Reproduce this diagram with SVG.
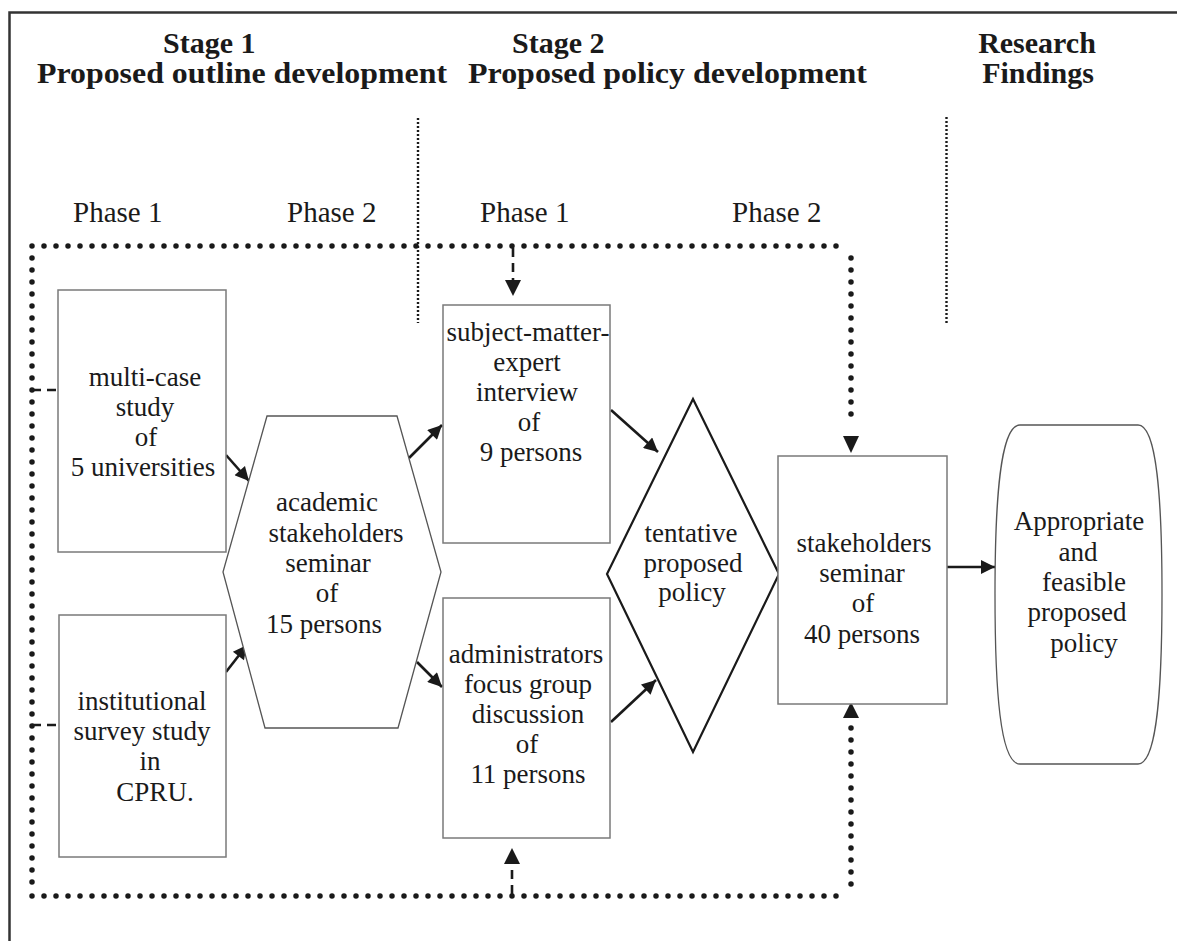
<svg xmlns="http://www.w3.org/2000/svg" width="1177" height="941" viewBox="0 0 1177 941">
  <style>
    text { font-family: "Liberation Serif", "DejaVu Serif", serif; fill: #1a1a1a; }
    .hdr { font-weight: bold; font-size: 30px; }
    .phase { font-size: 29px; }
    .lbl { font-size: 27px; text-anchor: middle; }
    .box { fill: #fff; stroke: #7a7a7a; stroke-width: 1.5; }
    .hex { fill: #fff; stroke: #555; stroke-width: 1.3; }
    .dia { fill: #fff; stroke: #1a1a1a; stroke-width: 2.2; }
    .term { fill: #fff; stroke: #555; stroke-width: 1.3; }
    .solid { fill: none; stroke: #1a1a1a; stroke-width: 2.6; }
    .loop { fill: none; stroke: #1a1a1a; stroke-width: 5.5; stroke-dasharray: 0 12; stroke-linecap: round; }
    .dash { fill: none; stroke: #1a1a1a; stroke-width: 2.6; stroke-dasharray: 9 6; }
    .fine { fill: none; stroke: #1a1a1a; stroke-width: 2.4; stroke-dasharray: 2 2; }
    .head { fill: #1a1a1a; }
  </style>
  <defs>
    <marker id="ah" viewBox="0 0 10 10" refX="10" refY="5" markerWidth="16" markerHeight="14" markerUnits="userSpaceOnUse" orient="auto">
      <path d="M0,0 L10,5 L0,10 z" fill="#1a1a1a"/>
    </marker>
  </defs>

  <rect width="1177" height="941" fill="#fff"/>
  <!-- frame -->
  <path d="M9.5,941 V12.5 H1177" fill="none" stroke="#333" stroke-width="2.5"/>

  <!-- column headers -->
  <g id="headers">
    <text class="hdr" x="163" y="53">Stage 1</text>
    <text class="hdr" x="37" y="83" textLength="410" lengthAdjust="spacingAndGlyphs">Proposed outline development</text>
    <text class="hdr" x="512" y="53">Stage 2</text>
    <text class="hdr" x="468" y="83" textLength="399" lengthAdjust="spacingAndGlyphs">Proposed policy development</text>
    <text class="hdr" x="1037" y="53" text-anchor="middle">Research</text>
    <text class="hdr" x="1038" y="83" text-anchor="middle">Findings</text>
  </g>

  <g id="phases">
    <text class="phase" x="73" y="222">Phase 1</text>
    <text class="phase" x="287" y="222">Phase 2</text>
    <text class="phase" x="480" y="222">Phase 1</text>
    <text class="phase" x="732" y="222">Phase 2</text>
  </g>

  <!-- stage dividers -->
  <g id="dividers">
    <line class="fine" x1="418" y1="118" x2="418" y2="323"/>
    <line class="fine" x1="946.5" y1="117" x2="946.5" y2="323"/>
  </g>

  <g id="connectors">
    <!-- feedback loop -->
    <path class="loop" d="M32,246 H845"/>
    <path class="loop" d="M32,258 V884"/>
    <path class="loop" d="M32,896 H845"/>
    <path class="loop" d="M851,258 V426"/>
    <path class="loop" d="M851,884 V726"/>
    <path class="head" d="M843,436 L859,436 L851,453 z"/>
    <path class="head" d="M843,718 L859,718 L851,702 z"/>
    <!-- dashed feeds -->
    <line class="dash" x1="32" y1="390" x2="58" y2="390"/>
    <line class="dash" x1="32" y1="725" x2="59" y2="725"/>
    <path class="dash" d="M513,248 V282"/>
    <path class="head" d="M505,280 L521,280 L513,296 z"/>
    <path class="dash" d="M512,894 V864"/>
    <path class="head" d="M504,864 L520,864 L512,848 z"/>
    <!-- flow arrows -->
    <line class="solid" x1="226" y1="455" x2="249" y2="481" marker-end="url(#ah)"/>
    <line class="solid" x1="226" y1="672" x2="247" y2="645" marker-end="url(#ah)"/>
    <line class="solid" x1="409" y1="458" x2="442" y2="425" marker-end="url(#ah)"/>
    <line class="solid" x1="417" y1="662" x2="442" y2="687" marker-end="url(#ah)"/>
    <line class="solid" x1="611" y1="410" x2="658" y2="452" marker-end="url(#ah)"/>
    <line class="solid" x1="611" y1="722" x2="656" y2="680" marker-end="url(#ah)"/>
    <line class="solid" x1="947" y1="567" x2="995" y2="567" marker-end="url(#ah)"/>
  </g>

  <g id="multi-case">
    <rect class="box" x="58" y="290" width="168" height="262"/>
    <text class="lbl" x="145" y="386">multi-case</text>
    <text class="lbl" x="145" y="416">study</text>
    <text class="lbl" x="146" y="446">of</text>
    <text class="lbl" x="143" y="476">5 universities</text>
  </g>

  <g id="survey">
    <rect class="box" x="59" y="615" width="167" height="242"/>
    <text class="lbl" x="142" y="710">institutional</text>
    <text class="lbl" x="142" y="740">survey study</text>
    <text class="lbl" x="150" y="770">in</text>
    <text class="lbl" x="155" y="801">CPRU.</text>
  </g>

  <g id="academic-seminar">
    <polygon class="hex" points="267,416 397,416 441,572 398,728 265,728 223,572"/>
    <text class="lbl" x="327" y="511">academic</text>
    <text class="lbl" x="336" y="542">stakeholders</text>
    <text class="lbl" x="328" y="572">seminar</text>
    <text class="lbl" x="327" y="602">of</text>
    <text class="lbl" x="324" y="633">15 persons</text>
  </g>

  <g id="expert-interview">
    <rect class="box" x="443" y="305" width="167" height="238"/>
    <text class="lbl" x="528" y="341">subject-matter-</text>
    <text class="lbl" x="527" y="371">expert</text>
    <text class="lbl" x="527" y="401">interview</text>
    <text class="lbl" x="529" y="431">of</text>
    <text class="lbl" x="531" y="461">9 persons</text>
  </g>

  <g id="focus-group">
    <rect class="box" x="443" y="598" width="167" height="240"/>
    <text class="lbl" x="526" y="663">administrators</text>
    <text class="lbl" x="528" y="693">focus group</text>
    <text class="lbl" x="528" y="723">discussion</text>
    <text class="lbl" x="527" y="753">of</text>
    <text class="lbl" x="528" y="783">11 persons</text>
  </g>

  <g id="tentative-policy">
    <polygon class="dia" points="693,399 779,574 693,752 607,574"/>
    <text class="lbl" x="691" y="542">tentative</text>
    <text class="lbl" x="693" y="572">proposed</text>
    <text class="lbl" x="692" y="601">policy</text>
  </g>

  <g id="stakeholders-seminar">
    <rect class="box" x="778" y="456" width="169" height="248"/>
    <text class="lbl" x="864" y="552">stakeholders</text>
    <text class="lbl" x="862" y="582">seminar</text>
    <text class="lbl" x="863" y="612">of</text>
    <text class="lbl" x="862" y="643">40 persons</text>
  </g>

  <g id="findings">
    <path class="term" d="M1020,425 H1138 C1157,425 1162,500 1162,594 C1162,690 1157,764 1138,764 H1020 C1000,764 995,690 995,594 C995,500 1000,425 1020,425 Z"/>
    <text class="lbl" x="1079" y="530">Appropriate</text>
    <text class="lbl" x="1078" y="561">and</text>
    <text class="lbl" x="1084" y="591">feasible</text>
    <text class="lbl" x="1077" y="621">proposed</text>
    <text class="lbl" x="1084" y="652">policy</text>
  </g>
</svg>
